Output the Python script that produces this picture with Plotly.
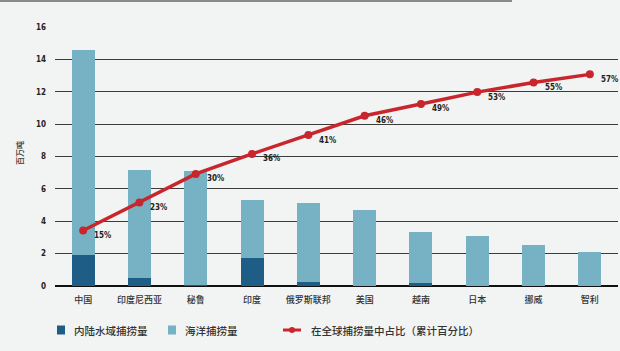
import plotly.graph_objects as go

categories = ["中国", "印度尼西亚", "秘鲁", "印度", "俄罗斯联邦", "美国", "越南", "日本", "挪威", "智利"]
inland = [1.9, 0.5, 0.05, 1.7, 0.27, 0.02, 0.17, 0.02, 0.01, 0.0]
total = [14.6, 7.15, 7.1, 5.3, 5.13, 4.7, 3.36, 3.11, 2.51, 2.1]
marine = [round(t - i, 3) for t, i in zip(total, inland)]
cum_share = [15, 22.6, 30.3, 35.7, 40.8, 46, 49.2, 52.4, 55, 57.2]
share_labels = ["15%", "23%", "30%", "36%", "41%", "46%", "49%", "53%", "55%", "57%"]
y_ticks = [0, 2, 4, 6, 8, 10, 12, 14, 16]

DARK = "#1e5d85"
LIGHT = "#76b1c4"
RED = "#c8262c"
BG = "#f2f3f3"
CJK = "Noto Sans CJK SC"
NUM = "DejaVu Sans Condensed, Liberation Sans Narrow, Arial Narrow, sans-serif"

fig = go.Figure()
fig.add_trace(go.Bar(x=categories, y=inland, marker=dict(color=DARK, line=dict(width=0)),
                     width=0.41, name="内陆水域捕捞量", showlegend=False))
fig.add_trace(go.Bar(x=categories, y=marine, marker=dict(color=LIGHT, line=dict(width=0)),
                     width=0.41, name="海洋捕捞量", showlegend=False))
fig.add_trace(go.Scatter(x=categories, y=cum_share, yaxis="y2", mode="lines+markers",
                         line=dict(color=RED, width=3.5), marker=dict(color=RED, size=8),
                         name="在全球捕捞量中占比（累计百分比）", showlegend=False))

annotations = []
for c, v, t in zip(categories, cum_share, share_labels):
    annotations.append(dict(x=c, y=v, xref="x", yref="y2", text=t, showarrow=False,
                            xanchor="left", yanchor="middle", xshift=9, yshift=-5,
                            font=dict(family=NUM, size=8, color="#222", weight="bold")))

W, H0, TOP = 563.0, 259.0, 286.0
def px(x):
    return (x - 55) / W
def py(y):
    return (TOP - y) / H0

# y-axis title
annotations.append(dict(x=px(19), y=py(153), xref="paper", yref="paper", text="百万吨",
                        showarrow=False, textangle=-90, xanchor="center", yanchor="middle",
                        font=dict(family=CJK, size=8, color="#333", weight=500)))

# manual legend
legend_items = [
    ("rect", DARK, 57, "内陆水域捕捞量", 72),
    ("rect", LIGHT, 168, "海洋捕捞量", 183),
    ("line", RED, 283, "在全球捕捞量中占比（累计百分比）", 309),
]
shapes = []
ly = 330
for kind, col, sx, txt, tx in legend_items:
    if kind == "rect":
        shapes.append(dict(type="rect", xref="paper", yref="paper",
                           x0=px(sx), x1=px(sx + 8), y0=py(ly + 4.5), y1=py(ly - 4.5),
                           fillcolor=col, line=dict(width=0)))
    else:
        shapes.append(dict(type="line", xref="paper", yref="paper",
                           x0=px(sx), x1=px(sx + 18), y0=py(ly), y1=py(ly),
                           line=dict(color=col, width=3)))
        shapes.append(dict(type="circle", xref="paper", yref="paper",
                           x0=px(sx + 6), x1=px(sx + 12), y0=py(ly + 3), y1=py(ly - 3),
                           fillcolor=col, line=dict(width=0)))
    annotations.append(dict(x=px(tx), y=py(ly), xref="paper", yref="paper", text=txt,
                            showarrow=False, xanchor="left", yanchor="middle",
                            font=dict(family=CJK, size=10.5, color="#333", weight=500)))

# top border line
shapes.append(dict(type="line", xref="paper", yref="paper", x0=px(0), x1=px(512),
                   y0=py(1), y1=py(1), line=dict(color="#8a8a8a", width=2)))

fig.update_layout(
    width=620, height=351,
    margin=dict(l=55, r=2, t=27, b=65),
    paper_bgcolor=BG, plot_bgcolor=BG,
    barmode="stack", bargap=0.59,
    showlegend=False,
    xaxis=dict(type="category", range=[-0.5, 9.5], showgrid=False, zeroline=False,
               showline=False, ticks="", ticklabelstandoff=7,
               tickfont=dict(family=CJK, size=9, color="#333", weight=500)),
    yaxis=dict(range=[0, 16], tickvals=y_ticks, showgrid=True, gridcolor="#3c3c3c",
               gridwidth=1, zeroline=True, zerolinecolor="#111", zerolinewidth=2,
               showline=False, ticks="", ticklabelstandoff=8,
               tickfont=dict(family=NUM, size=8, color="#222", weight="bold")),
    yaxis2=dict(range=[0, 70], overlaying="y", side="right", visible=False,
                showgrid=False, zeroline=False),
    annotations=annotations,
    shapes=shapes,
)

fig.write_html("out.html")
